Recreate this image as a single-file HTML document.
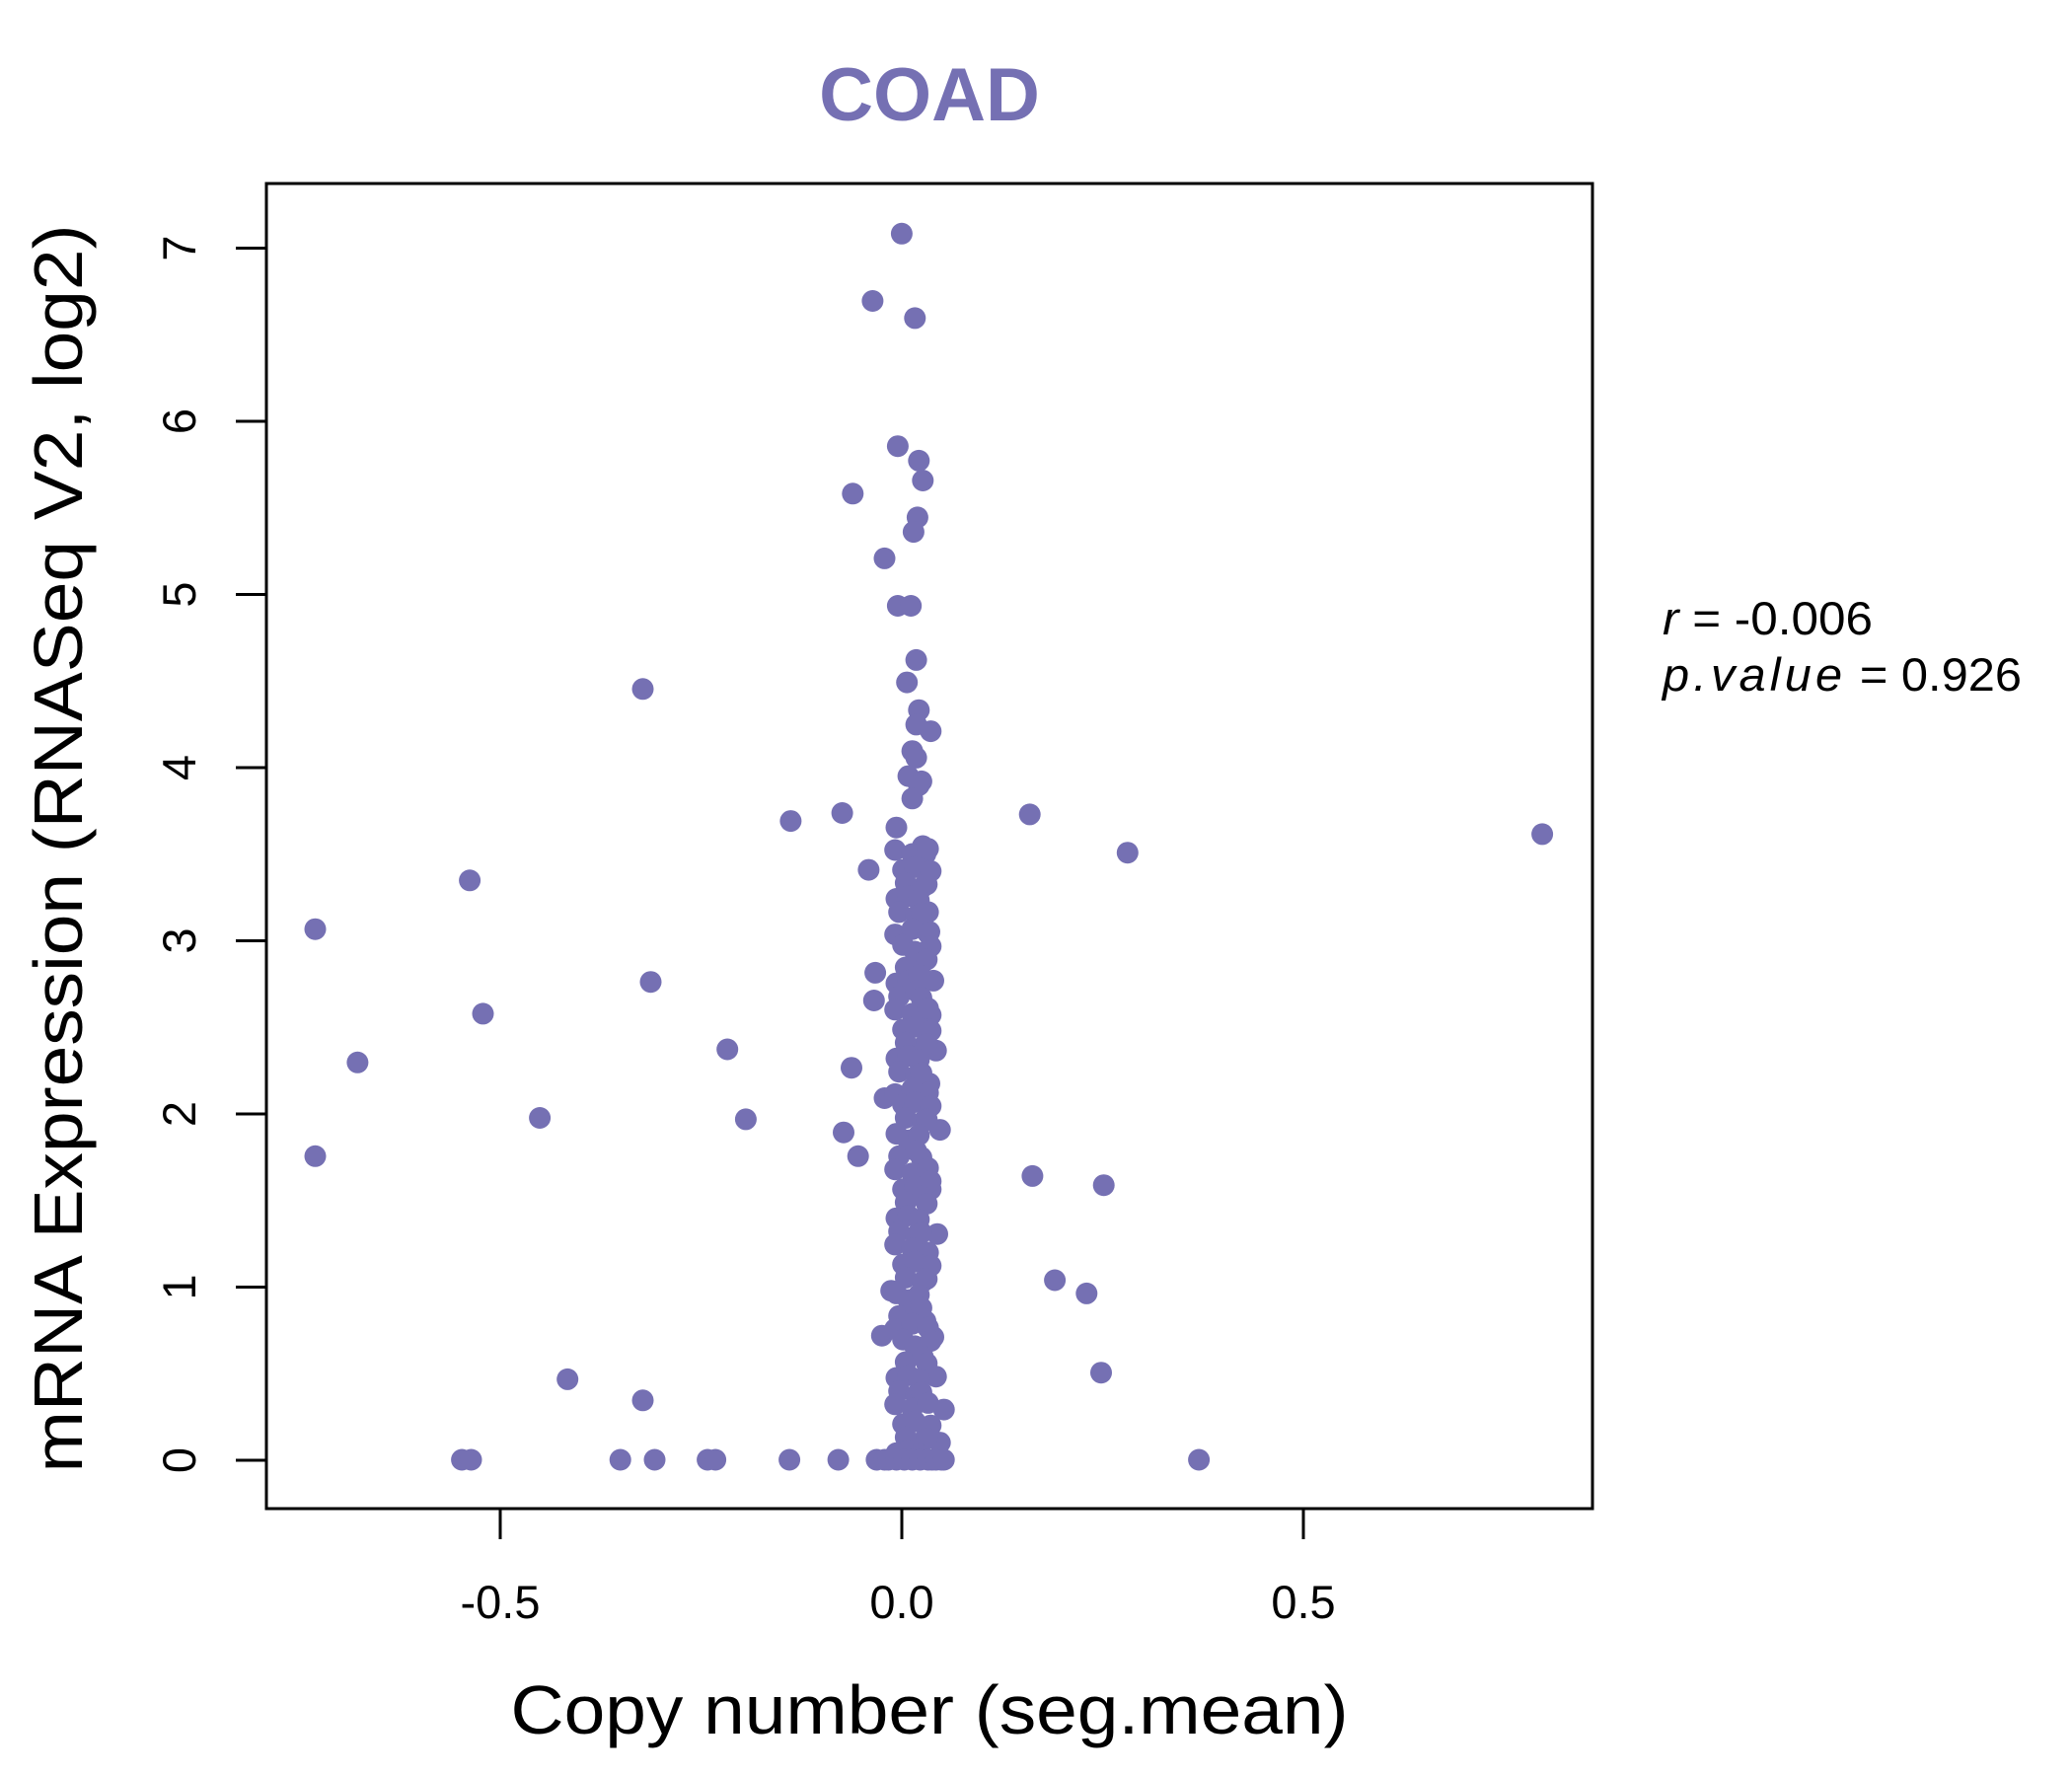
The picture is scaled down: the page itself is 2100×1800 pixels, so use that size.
<!DOCTYPE html>
<html><head><meta charset="utf-8"><style>
html,body{margin:0;padding:0;background:#fff;}
svg{display:block;font-family:"Liberation Sans",Arial,sans-serif;}
</style></head><body>
<svg id="s" width="2100" height="1800" viewBox="0 0 2100 1800" xmlns="http://www.w3.org/2000/svg">
<rect width="2100" height="1800" fill="#fff"/>
<text x="942" y="122" text-anchor="middle" font-size="76" font-weight="bold" fill="#7570b3">COAD</text>
<g id="pts" fill="#7570b3"></g>
<rect x="270" y="186" width="1344" height="1343" fill="none" stroke="#000" stroke-width="3"/>
<g stroke="#000" stroke-width="3">
<line x1="507" y1="1529" x2="507" y2="1560"/>
<line x1="914" y1="1529" x2="914" y2="1560"/>
<line x1="1321" y1="1529" x2="1321" y2="1560"/>
<line x1="239" y1="1480" x2="270" y2="1480"/>
<line x1="239" y1="1304.5" x2="270" y2="1304.5"/>
<line x1="239" y1="1129" x2="270" y2="1129"/>
<line x1="239" y1="953.5" x2="270" y2="953.5"/>
<line x1="239" y1="778" x2="270" y2="778"/>
<line x1="239" y1="602.5" x2="270" y2="602.5"/>
<line x1="239" y1="427" x2="270" y2="427"/>
<line x1="239" y1="251.5" x2="270" y2="251.5"/>
</g>
<g font-size="47" text-anchor="middle" fill="#000">
<text x="507" y="1640">-0.5</text>
<text x="914" y="1640">0.0</text>
<text x="1321" y="1640">0.5</text>
<text transform="translate(198,1480) rotate(-90)">0</text>
<text transform="translate(198,1304.5) rotate(-90)">1</text>
<text transform="translate(198,1129) rotate(-90)">2</text>
<text transform="translate(198,953.5) rotate(-90)">3</text>
<text transform="translate(198,778) rotate(-90)">4</text>
<text transform="translate(198,602.5) rotate(-90)">5</text>
<text transform="translate(198,427) rotate(-90)">6</text>
<text transform="translate(198,251.5) rotate(-90)">7</text>
</g>
<text x="942" y="1757" text-anchor="middle" font-size="70" textLength="849" lengthAdjust="spacingAndGlyphs">Copy number (seg.mean)</text>
<text transform="translate(83,860) rotate(-90)" text-anchor="middle" font-size="70" textLength="1265" lengthAdjust="spacingAndGlyphs">mRNA Expression (RNASeq V2, log2)</text>
<text x="1685" y="643" font-size="47" textLength="213" lengthAdjust="spacingAndGlyphs"><tspan font-style="italic">r</tspan> = -0.006</text>
<text x="1685" y="700" font-size="47" textLength="364" lengthAdjust="spacingAndGlyphs"><tspan font-style="italic" letter-spacing="4">p.value</tspan> = 0.926</text>
</svg>
<script>
var P=[[682,176],[660,227],[692,240],[679,337],[695,348],[698,363],[645,373],[694,391],[691,402],[669,422],[679,458],[689,458],[693,499],[686,516],[486,521],[695,537],[693,548],[704,553],[690,568],[693,573],[687,587],[697,591],[695,594],[690,604],[598,621],[637,615],[779,616],[678,626],[853,645],[1167,631],[657,658],[355,666],[238,703],[492,743],[662,736],[365,767],[661,757],[270,804],[550,794],[644,808],[408,846],[564,847],[638,857],[649,875],[238,875],[781,890],[835,897],[669,831],[798,969],[822,979],[674,977],[667,1011],[833,1039],[429,1044],[486,1060],[714,1067],[907,1105],
[349,1105],[356,1105],[469,1105],[495,1105],[535,1105],[541,1105],[597,1105],[634,1105],[663,1105],[669,1105],[712,1105],[705,1105],[711,1092],[708,1042],[706,1012],[709,934],[711,855],[708,795],[706,742],[703,705],[702,690],[700,646],[698,640],[704,768],[703,820],[704,900],[700,1000]];
var xs=[679,685,691,697,702];
for(var y=645;y<=1105;y+=12){for(var i=0;i<xs.length;i++){if(((y*7+i*13)%5)<3)P.push([xs[i]+((y+i*3)%5)-2,y+((i*5+y)%7)-3]);}}
for(var x=672;x<=715;x+=6)P.push([x,1105]);
var g=document.getElementById('pts'),h='';
for(var k=0;k<P.length;k++){var X=270+(P[k][0]-201)*1.3386,Y=186+(P[k][1]-138)*1.3376;h+='<circle cx="'+X.toFixed(1)+'" cy="'+Y.toFixed(1)+'" r="11"/>';}
g.innerHTML=h;
</script>
</body></html>
